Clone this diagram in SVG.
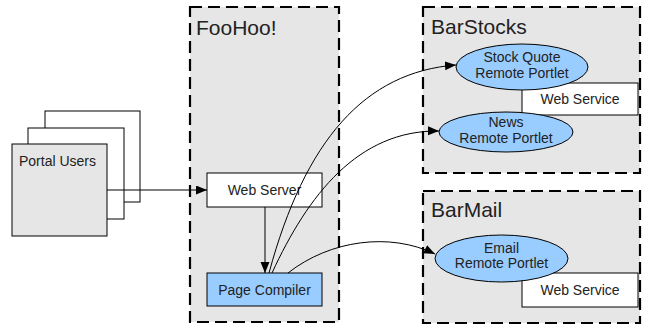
<svg xmlns="http://www.w3.org/2000/svg" width="646" height="328" viewBox="0 0 646 328">
<style>
.zone{fill:#e6e6e6;stroke:#000;stroke-width:2.2;stroke-dasharray:12 6}
.box{stroke:#000;stroke-width:1}
.white{fill:#fff}
.blue{fill:#99ccff}
.grey{fill:#e6e6e6}
text{font-family:"Liberation Sans",Arial,sans-serif;font-size:14px;fill:#222}
.title{font-size:21px}
.mid{text-anchor:middle}
.conn{fill:none;stroke:#000;stroke-width:1}
</style>
<defs>
<marker id="arr" markerUnits="userSpaceOnUse" markerWidth="12" markerHeight="10" refX="11" refY="4.5" orient="auto">
<path d="M0,0 L11,4.5 L0,9 z" fill="#000"/>
</marker>
</defs>
<rect width="646" height="328" fill="#fff"/>
<g id="foohoo">
<rect class="zone" x="190" y="7" width="149" height="315"/>
<text class="title" x="196" y="35">FooHoo!</text>
</g>
<g id="barstocks">
<rect class="zone" x="423" y="7" width="217" height="166"/>
<text class="title" x="431" y="34">BarStocks</text>
</g>
<g id="barmail">
<rect class="zone" x="423" y="191" width="217" height="132"/>
<text class="title" x="431" y="217">BarMail</text>
</g>
<g id="portal-users">
<rect class="box white" x="45" y="111" width="95" height="91"/>
<rect class="box white" x="28" y="128" width="96" height="91"/>
<rect class="box grey" x="12" y="144" width="95" height="92"/>
<text x="19" y="166">Portal Users</text>
</g>
<g id="web-server">
<rect class="box white" x="207" y="173" width="115" height="34"/>
<text class="mid" x="264.5" y="195">Web Server</text>
</g>
<g id="page-compiler">
<rect class="box blue" x="207" y="273" width="115" height="33"/>
<text class="mid" x="264.5" y="295">Page Compiler</text>
</g>
<g id="web-service-stocks">
<rect class="box white" x="522" y="83" width="116" height="32"/>
<text class="mid" x="580" y="104">Web Service</text>
</g>
<g id="stock-quote">
<ellipse class="box blue" cx="522" cy="67" rx="66" ry="23"/>
<text class="mid" x="522" y="62">Stock Quote</text>
<text class="mid" x="522" y="78">Remote Portlet</text>
</g>
<g id="news">
<ellipse class="box blue" cx="506" cy="132" rx="67" ry="20"/>
<text class="mid" x="506" y="127">News</text>
<text class="mid" x="506" y="143">Remote Portlet</text>
</g>
<g id="web-service-mail">
<rect class="box white" x="522" y="273" width="116" height="34"/>
<text class="mid" x="580" y="295">Web Service</text>
</g>
<g id="email">
<ellipse class="box blue" cx="501.5" cy="258.5" rx="66.5" ry="23.5"/>
<text class="mid" x="501.5" y="253">Email</text>
<text class="mid" x="501.5" y="268">Remote Portlet</text>
</g>
<g id="connectors">
<path class="conn" d="M107,190 L207,190" marker-end="url(#arr)"/>
<path class="conn" d="M265,207 L265,273" marker-end="url(#arr)"/>
<path class="conn" d="M269,273 C305,140 365,72 456,65" marker-end="url(#arr)"/>
<path class="conn" d="M272,273 C308,195 358,130 439,131" marker-end="url(#arr)"/>
<path class="conn" d="M288,273 C330,240 390,232 435,254" marker-end="url(#arr)"/>
</g>
</svg>
